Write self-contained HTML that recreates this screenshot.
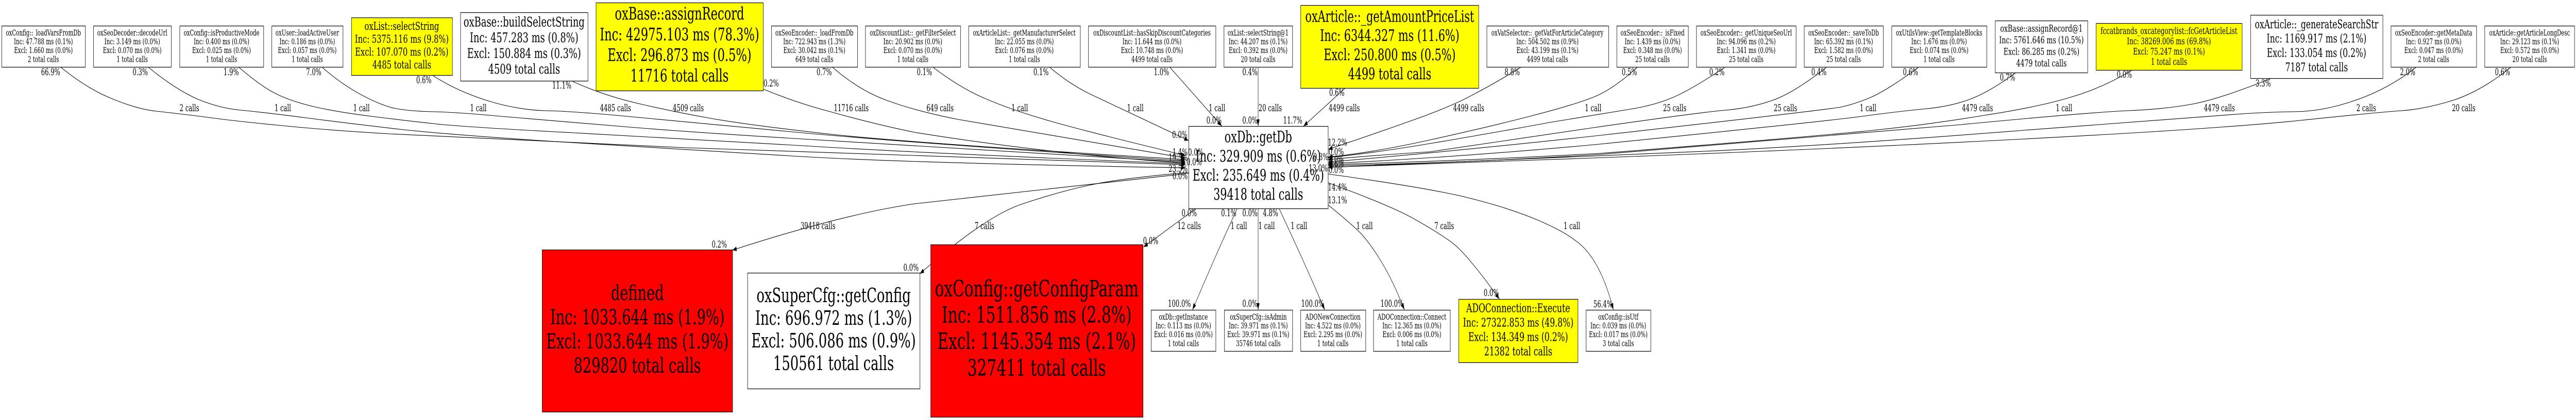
<!DOCTYPE html>
<html><head><meta charset="utf-8"><title>Call graph</title>
<style>
html,body{margin:0;padding:0;background:#fff;width:100%;height:100%;overflow:hidden}
svg{display:block;width:100vw;height:100vh}
text{font-family:"DejaVu Serif","Liberation Serif",serif;fill:#000;text-anchor:middle}
.n{font-size:16.2px}
.l{font-size:18.4px}
rect{stroke:#000;stroke-width:1.2}
.e{fill:none;stroke:#000;stroke-width:1.1}
.a{marker-end:url(#h)}
</style></head><body>
<svg xmlns="http://www.w3.org/2000/svg" viewBox="0 0 7889 816" preserveAspectRatio="none">
<defs><marker id="h" markerUnits="userSpaceOnUse" markerWidth="14" markerHeight="10" refX="13" refY="4.5" orient="auto"><path d="M0,0 L13,4.5 L0,9 z" fill="#000"/></marker></defs>
<rect x="0" y="0" width="7889" height="816" style="fill:#fff;stroke:none"/>

<!-- edges -->
<path class="e a" d="M187,131 Q268,173 344,192 Q420,212 478,216 Q536,220 625,227 Q714,235 848,243 Q982,252 1191,260 Q1400,268 2100,287 Q2800,305 3630,320"/>
<path class="e a" d="M455,131 Q536,173 603,192 Q670,210 737,214 Q804,218 938,229 Q1071,240 1236,252 Q1400,263 1750,277 Q2100,290 2450,304 Q2800,317 3630,326"/>
<path class="e a" d="M732,131 Q804,170 848,183 Q893,197 960,207 Q1027,217 1138,226 Q1250,235 1325,240 Q1400,246 1757,258 Q2114,270 2457,283 Q2800,297 3630,318"/>
<path class="e a" d="M987,131 Q1045,163 1103,183 Q1161,203 1205,210 Q1250,216 1325,217 Q1400,218 1534,226 Q1668,233 1891,245 Q2114,257 2457,270 Q2800,282 3630,315"/>
<path class="e a" d="M1326,147 Q1400,177 1490,195 Q1579,213 1668,215 Q1757,216 1936,227 Q2114,238 2457,258 Q2800,278 3630,313"/>
<path class="e a" d="M1753,158 Q1846,185 1954,201 Q2061,217 2177,230 Q2293,243 2547,261 Q2800,278 3630,310"/>
<path class="e a" d="M2337,173 Q2440,200 2543,217 Q2670,240 2800,257 Q3200,298 3630,317"/>
<path class="e a" d="M2550,131 Q2632,176 2716,195 Q2800,215 2934,232 Q3068,248 3630,307"/>
<path class="e a" d="M2858,131 Q2943,172 3019,192 Q3095,213 3215,235 Q3336,257 3630,302"/>
<path class="e a" d="M3215,131 Q3275,163 3336,182 L3640,273"/>
<path class="e a" d="M3583,131 L3742,245"/>
<path class="e a" d="M3853,131 L3853,245"/>
<path class="e a" d="M4120,171 L3992,245"/>
<path class="e a" d="M4657,131 Q4575,163 4508,185 Q4441,208 4320,235 Q4200,262 4068,290"/>
<path class="e a" d="M5014,131 Q4941,173 4883,188 Q4825,203 4691,225 Q4557,247 4378,272 Q4200,297 4068,305"/>
<path class="e a" d="M5282,131 Q5182,173 5128,188 Q5075,203 5003,211 Q4932,218 4745,238 Q4557,260 4378,279 Q4200,298 4068,306"/>
<path class="e a" d="M5593,131 Q5495,180 5428,195 Q5360,210 5285,214 Q5209,218 4880,248 Q4557,278 4378,295 Q4200,302 4068,310"/>
<path class="e a" d="M5875,131 Q5776,177 5726,190 Q5676,203 5638,208 Q5600,213 4900,263 Q4500,291 4068,315"/>
<path class="e a" d="M6174,141 Q6090,180 6028,194 Q5967,208 5887,212 Q5807,217 5703,226 Q5600,235 4900,280 Q4500,304 4068,318"/>
<path class="e a" d="M6530,136 Q6442,170 6346,188 Q6250,207 6078,224 Q5906,242 5753,252 Q5600,263 4900,298 Q4500,312 4068,320"/>
<path class="e a" d="M6956,152 Q6800,192 6716,202 Q6633,212 6518,215 Q6404,218 5990,243 Q5600,263 4900,300 Q4500,316 4068,322"/>
<path class="e a" d="M7399,131 Q7314,173 7213,195 Q7112,217 7025,217 Q6939,218 6870,221 Q6800,224 6200,253 Q5600,283 5217,294 Q4834,306 4068,325"/>
<path class="e a" d="M7689,131 Q7599,177 7512,195 Q7425,212 7355,215 Q7286,218 7043,234 Q6800,250 6200,270 Q5600,290 4834,308 Q4400,318 4068,325"/>
<path class="e a" d="M3640,337 Q3200,368 2800,396 Q2583,416 2243,486"/>
<path class="e a" d="M3640,335 Q3425,347 3335,360 Q3246,372 3132,396 Q3019,419 2817,532"/>
<path class="e a" d="M3663,405 L3502,480"/>
<path class="e a" d="M3789,405 Q3720,500 3652,602"/>
<path class="e a" d="M3853,405 L3853,602"/>
<path class="e a" d="M3917,405 Q3995,510 4057,602"/>
<path class="e a" d="M4067,398 Q4130,430 4170,455 Q4245,510 4301,602"/>
<path class="e a" d="M4067,355 Q4261,400 4330,425 Q4400,450 4444,470 Q4489,490 4592,581"/>
<path class="e a" d="M4067,338 Q4350,363 4475,381 Q4601,400 4692,423 Q4784,447 4824,467 Q4900,500 4941,602"/>

<!-- small top nodes -->
<rect x="5.5" y="50.5" width="256" height="80" style="fill:#fff"/>
<text class="n" x="133" y="69">oxConfig::_loadVarsFromDb</text><text class="n" x="133" y="86">Inc: 47.788 ms (0.1%)</text><text class="n" x="133" y="103">Excl: 1.660 ms (0.0%)</text><text class="n" x="133" y="120.5">2 total calls</text>

<rect x="286.5" y="50.5" width="238" height="80" style="fill:#fff"/>
<text class="n" x="405" y="69">oxSeoDecoder::decodeUrl</text><text class="n" x="405" y="86">Inc: 3.149 ms (0.0%)</text><text class="n" x="405" y="103">Excl: 0.070 ms (0.0%)</text><text class="n" x="405" y="120.5">1 total calls</text>

<rect x="550.5" y="50.5" width="257" height="80" style="fill:#fff"/>
<text class="n" x="678.5" y="69">oxConfig::isProductiveMode</text><text class="n" x="678.5" y="86">Inc: 0.400 ms (0.0%)</text><text class="n" x="678.5" y="103">Excl: 0.025 ms (0.0%)</text><text class="n" x="678.5" y="120.5">1 total calls</text>

<rect x="832.5" y="50.5" width="218" height="80" style="fill:#fff"/>
<text class="n" x="941" y="69">oxUser::loadActiveUser</text><text class="n" x="941" y="86">Inc: 0.186 ms (0.0%)</text><text class="n" x="941" y="103">Excl: 0.057 ms (0.0%)</text><text class="n" x="941" y="120.5">1 total calls</text>

<rect x="1076.5" y="34.5" width="309" height="112" style="fill:#ff0"/>
<g transform="translate(1230.5,0) scale(1.06,1)" font-size="21.8"><text y="58">oxList::selectString</text><text y="83">Inc: 5375.116 ms (9.8%)</text><text y="108">Excl: 107.070 ms (0.2%)</text><text y="133">4485 total calls</text></g>

<rect x="1410.5" y="24.5" width="390" height="133" style="fill:#fff"/>
<g transform="translate(1605,0) scale(1.06,1)" font-size="26.6"><text y="51.5">oxBase::buildSelectString</text><text y="82">Inc: 457.283 ms (0.8%)</text><text y="112.5">Excl: 150.884 ms (0.3%)</text><text y="143">4509 total calls</text></g>

<rect x="1825.5" y="5.5" width="512" height="171" style="fill:#ff0"/>
<g transform="translate(2081,0) scale(1.06,1)" font-size="33.6"><text y="38">oxBase::assignRecord</text><text y="78.5">Inc: 42975.103 ms (78.3%)</text><text y="118.5">Excl: 296.873 ms (0.5%)</text><text y="158.5">11716 total calls</text></g>

<rect x="2362.5" y="50.5" width="264" height="80" style="fill:#fff"/>
<text class="n" x="2494" y="69">oxSeoEncoder::_loadFromDb</text><text class="n" x="2494" y="86">Inc: 722.943 ms (1.3%)</text><text class="n" x="2494" y="103">Excl: 30.042 ms (0.1%)</text><text class="n" x="2494" y="120.5">649 total calls</text>

<rect x="2650.5" y="50.5" width="291" height="80" style="fill:#fff"/>
<text class="n" x="2795.5" y="69">oxDiscountList::_getFilterSelect</text><text class="n" x="2795.5" y="86">Inc: 20.902 ms (0.0%)</text><text class="n" x="2795.5" y="103">Excl: 0.070 ms (0.0%)</text><text class="n" x="2795.5" y="120.5">1 total calls</text>

<rect x="2966.5" y="50.5" width="342" height="80" style="fill:#fff"/>
<text class="n" x="3137" y="69">oxArticleList::_getManufacturerSelect</text><text class="n" x="3137" y="86">Inc: 22.055 ms (0.0%)</text><text class="n" x="3137" y="103">Excl: 0.076 ms (0.0%)</text><text class="n" x="3137" y="120.5">1 total calls</text>

<rect x="3333.5" y="50.5" width="390" height="80" style="fill:#fff"/>
<text class="n" x="3528" y="69">oxDiscountList::hasSkipDiscountCategories</text><text class="n" x="3528" y="86">Inc: 11.644 ms (0.0%)</text><text class="n" x="3528" y="103">Excl: 10.748 ms (0.0%)</text><text class="n" x="3528" y="120.5">4499 total calls</text>

<rect x="3748.5" y="50.5" width="210" height="80" style="fill:#fff"/>
<text class="n" x="3853" y="69">oxList::selectString@1</text><text class="n" x="3853" y="86">Inc: 44.207 ms (0.1%)</text><text class="n" x="3853" y="103">Excl: 0.392 ms (0.0%)</text><text class="n" x="3853" y="120.5">20 total calls</text>

<rect x="3983.5" y="10.5" width="545" height="161" style="fill:#ff0"/>
<g transform="translate(4256,0) scale(1.06,1)" font-size="30.8"><text y="42.5">oxArticle::_getAmountPriceList</text><text y="79.5">Inc: 6344.327 ms (11.6%)</text><text y="117">Excl: 250.800 ms (0.5%)</text><text y="154">4499 total calls</text></g>

<rect x="4553.5" y="50.5" width="373" height="80" style="fill:#fff"/>
<text class="n" x="4739" y="69">oxVatSelector::_getVatForArticleCategory</text><text class="n" x="4739" y="86">Inc: 504.502 ms (0.9%)</text><text class="n" x="4739" y="103">Excl: 43.199 ms (0.1%)</text><text class="n" x="4739" y="120.5">4499 total calls</text>

<rect x="4951.5" y="50.5" width="219" height="80" style="fill:#fff"/>
<text class="n" x="5061" y="69">oxSeoEncoder::_isFixed</text><text class="n" x="5061" y="86">Inc: 1.439 ms (0.0%)</text><text class="n" x="5061" y="103">Excl: 0.348 ms (0.0%)</text><text class="n" x="5061" y="120.5">25 total calls</text>

<rect x="5195.5" y="50.5" width="305" height="80" style="fill:#fff"/>
<text class="n" x="5347.7" y="69">oxSeoEncoder::_getUniqueSeoUrl</text><text class="n" x="5347.7" y="86">Inc: 94.096 ms (0.2%)</text><text class="n" x="5347.7" y="103">Excl: 1.341 ms (0.0%)</text><text class="n" x="5347.7" y="120.5">25 total calls</text>

<rect x="5525.5" y="50.5" width="242" height="80" style="fill:#fff"/>
<text class="n" x="5646" y="69">oxSeoEncoder::_saveToDb</text><text class="n" x="5646" y="86">Inc: 65.392 ms (0.1%)</text><text class="n" x="5646" y="103">Excl: 1.582 ms (0.0%)</text><text class="n" x="5646" y="120.5">25 total calls</text>

<rect x="5793.5" y="50.5" width="291" height="80" style="fill:#fff"/>
<text class="n" x="5938.5" y="69">oxUtilsView::getTemplateBlocks</text><text class="n" x="5938.5" y="86">Inc: 1.676 ms (0.0%)</text><text class="n" x="5938.5" y="103">Excl: 0.074 ms (0.0%)</text><text class="n" x="5938.5" y="120.5">1 total calls</text>

<rect x="6110.5" y="40.5" width="283" height="101" style="fill:#fff"/>
<g transform="translate(6252,0) scale(1.06,1)" font-size="18.7"><text y="61.5">oxBase::assignRecord@1</text><text y="84">Inc: 5761.646 ms (10.5%)</text><text y="106.5">Excl: 86.285 ms (0.2%)</text><text y="129">4479 total calls</text></g>

<rect x="6419.5" y="45.5" width="447" height="91" style="fill:#ff0"/>
<g transform="translate(6642.5,0) scale(1.06,1)" font-size="17.7"><text y="66">fccatbrands_oxcategorylist::fcGetArticleList</text><text y="86">Inc: 38269.006 ms (69.8%)</text><text y="106">Excl: 75.247 ms (0.1%)</text><text y="126">1 total calls</text></g>

<rect x="6892.5" y="29.5" width="405" height="123" style="fill:#fff"/>
<g transform="translate(7094.5,0) scale(1.06,1)" font-size="23.2"><text y="55">oxArticle::_generateSearchStr</text><text y="82.7">Inc: 1169.917 ms (2.1%)</text><text y="110.5">Excl: 133.054 ms (0.2%)</text><text y="138.5">7187 total calls</text></g>

<rect x="7322.5" y="50.5" width="262" height="80" style="fill:#fff"/>
<text class="n" x="7453" y="69">oxSeoEncoder::getMetaData</text><text class="n" x="7453" y="86">Inc: 0.927 ms (0.0%)</text><text class="n" x="7453" y="103">Excl: 0.047 ms (0.0%)</text><text class="n" x="7453" y="120.5">2 total calls</text>

<rect x="7609.5" y="50.5" width="275" height="80" style="fill:#fff"/>
<text class="n" x="7747" y="69">oxArticle::getArticleLongDesc</text><text class="n" x="7747" y="86">Inc: 29.123 ms (0.1%)</text><text class="n" x="7747" y="103">Excl: 0.572 ms (0.0%)</text><text class="n" x="7747" y="120.5">20 total calls</text>

<!-- centre -->
<rect x="3640.5" y="245.5" width="427" height="160" style="fill:#fff"/>
<g transform="translate(3853.5,0) scale(1.06,1)" font-size="30.7"><text y="276.5">oxDb::getDb</text><text y="314">Inc: 329.909 ms (0.6%)</text><text y="351">Excl: 235.649 ms (0.4%)</text><text y="388">39418 total calls</text></g>

<!-- bottom row -->
<rect x="1660.5" y="485.5" width="583" height="315" style="fill:#f00"/>
<g transform="translate(1952,0) scale(1.06,1)" font-size="40.5"><text y="583">defined</text><text y="630">Inc: 1033.644 ms (1.9%)</text><text y="677">Excl: 1033.644 ms (1.9%)</text><text y="724">829820 total calls</text></g>

<rect x="2289.5" y="530.5" width="528" height="225" style="fill:#fff"/>
<g transform="translate(2553,0) scale(1.06,1)" font-size="38.4"><text y="587">oxSuperCfg::getConfig</text><text y="631">Inc: 696.972 ms (1.3%)</text><text y="675">Excl: 506.086 ms (0.9%)</text><text y="719">150561 total calls</text></g>

<rect x="2850.5" y="475.5" width="650" height="335" style="fill:#f00"/>
<g transform="translate(3175,0) scale(1.06,1)" font-size="44.1"><text y="576">oxConfig::getConfigParam</text><text y="627">Inc: 1511.856 ms (2.8%)</text><text y="678">Excl: 1145.354 ms (2.1%)</text><text y="730">327411 total calls</text></g>

<rect x="3525.5" y="602.5" width="198" height="80" style="fill:#fff"/>
<text class="n" x="3624" y="621">oxDb::getInstance</text><text class="n" x="3624" y="638">Inc: 0.113 ms (0.0%)</text><text class="n" x="3624" y="655">Excl: 0.016 ms (0.0%)</text><text class="n" x="3624" y="672.5">1 total calls</text>

<rect x="3749.5" y="602.5" width="209" height="80" style="fill:#fff"/>
<text class="n" x="3853.5" y="621">oxSuperCfg::isAdmin</text><text class="n" x="3853.5" y="638">Inc: 39.971 ms (0.1%)</text><text class="n" x="3853.5" y="655">Excl: 39.971 ms (0.1%)</text><text class="n" x="3853.5" y="672.5">35746 total calls</text>

<rect x="3983.5" y="602.5" width="199" height="80" style="fill:#fff"/>
<text class="n" x="4082" y="621">ADONewConnection</text><text class="n" x="4082" y="638">Inc: 4.522 ms (0.0%)</text><text class="n" x="4082" y="655">Excl: 2.295 ms (0.0%)</text><text class="n" x="4082" y="672.5">1 total calls</text>

<rect x="4206.5" y="602.5" width="235" height="80" style="fill:#fff"/>
<text class="n" x="4324" y="621">ADOConnection::Connect</text><text class="n" x="4324" y="638">Inc: 12.365 ms (0.0%)</text><text class="n" x="4324" y="655">Excl: 0.006 ms (0.0%)</text><text class="n" x="4324" y="672.5">1 total calls</text>

<rect x="4467.5" y="581.5" width="365" height="123" style="fill:#ff0"/>
<g transform="translate(4649.5,0) scale(1.06,1)" font-size="23.3"><text y="606.5">ADOConnection::Execute</text><text y="634.5">Inc: 27322.853 ms (49.8%)</text><text y="662.5">Excl: 134.349 ms (0.2%)</text><text y="690.5">21382 total calls</text></g>

<rect x="4857.5" y="602.5" width="198" height="80" style="fill:#fff"/>
<text class="n" x="4956" y="621">oxConfig::isUtf</text><text class="n" x="4956" y="638">Inc: 0.039 ms (0.0%)</text><text class="n" x="4956" y="655">Excl: 0.017 ms (0.0%)</text><text class="n" x="4956" y="672.5">3 total calls</text>

<!-- tail labels top -->
<g class="l">
<text class="l" x="155" y="146">66.9%</text><text class="l" x="429.5" y="146">0.3%</text><text class="l" x="708" y="146">1.9%</text><text class="l" x="961" y="146">7.0%</text><text class="l" x="1298" y="161.5">0.6%</text><text class="l" x="1720.5" y="172">11.1%</text><text class="l" x="2361.6" y="168">0.2%</text><text class="l" x="2524" y="146">0.7%</text><text class="l" x="2831" y="146">0.1%</text><text class="l" x="3188" y="146">0.1%</text><text class="l" x="3557" y="146">1.0%</text><text class="l" x="3828" y="146">0.4%</text><text class="l" x="4094" y="186">0.6%</text><text class="l" x="4631" y="146">8.8%</text><text class="l" x="4990" y="146">0.5%</text><text class="l" x="5258" y="146">0.2%</text><text class="l" x="5570.5" y="146">0.4%</text><text class="l" x="5851" y="146">0.6%</text><text class="l" x="6148" y="156.5">0.7%</text><text class="l" x="6506" y="151">0.0%</text><text class="l" x="6931" y="168">3.3%</text><text class="l" x="7373.6" y="146">2.0%</text><text class="l" x="7664" y="146">0.6%</text>

<!-- mid labels -->
<text class="l" x="580" y="216">2 calls</text><text class="l" x="866" y="216">1 call</text><text class="l" x="1107" y="216">1 call</text><text class="l" x="1465" y="216">1 call</text><text class="l" x="1885" y="216">4485 calls</text><text class="l" x="2108" y="216">4509 calls</text><text class="l" x="2607" y="216">11716 calls</text><text class="l" x="2879" y="216">649 calls</text><text class="l" x="3123" y="216">1 call</text><text class="l" x="3477" y="216">1 call</text><text class="l" x="3727" y="216">1 call</text><text class="l" x="3890" y="216">20 calls</text><text class="l" x="4117" y="216">4499 calls</text><text class="l" x="4498" y="216">4499 calls</text><text class="l" x="4879" y="216">1 call</text><text class="l" x="5129" y="216">25 calls</text><text class="l" x="5468" y="216">25 calls</text><text class="l" x="5721" y="216">1 call</text><text class="l" x="6056" y="216">4479 calls</text><text class="l" x="6321" y="216">1 call</text><text class="l" x="6797" y="216">4479 calls</text><text class="l" x="7246.5" y="216">2 calls</text><text class="l" x="7545" y="216">20 calls</text>

<!-- head labels around getDb -->
<text class="l" x="3718" y="240">0.0%</text><text class="l" x="3828" y="240">0.0%</text><text class="l" x="3959" y="240">11.7%</text>
<text class="l" x="3613" y="268">0.0%</text><text class="l" x="3614" y="302">1.4%</text><text class="l" x="3662" y="302">0.0%</text><text class="l" x="3608" y="312">19.5%</text><text class="l" x="3657" y="321">0.0%</text><text class="l" x="3608" y="334">23.5%</text><text class="l" x="3614" y="348">0.0%</text>
<text class="l" x="4096" y="283">12.2%</text><text class="l" x="4092" y="301">0.0%</text><text class="l" x="4045" y="311">0.3%</text><text class="l" x="4092" y="316">0.0%</text><text class="l" x="4092" y="324">0.6%</text><text class="l" x="4037" y="333">13.0%</text><text class="l" x="4092" y="336">0.0%</text><text class="l" x="4096" y="370">14.4%</text><text class="l" x="4096" y="395">13.1%</text>

<!-- below getDb -->
<text class="l" x="3642" y="420">0.0%</text><text class="l" x="3763" y="420">0.1%</text><text class="l" x="3828" y="420">0.0%</text><text class="l" x="3891" y="420">4.8%</text>
<text class="l" x="2505" y="445">39418 calls</text><text class="l" x="3015" y="445">7 calls</text><text class="l" x="3642" y="445">12 calls</text><text class="l" x="3794" y="445">1 call</text><text class="l" x="3879" y="445">1 call</text><text class="l" x="3978" y="445">1 call</text><text class="l" x="4179" y="445">1 call</text><text class="l" x="4423" y="445">7 calls</text><text class="l" x="4814" y="445">1 call</text>

<!-- head labels bottom -->
<text class="l" x="2203" y="481">0.2%</text><text class="l" x="2790" y="526">0.0%</text><text class="l" x="3524" y="474">0.0%</text><text class="l" x="3612" y="596">100.0%</text><text class="l" x="3828" y="596">0.0%</text><text class="l" x="4020" y="596">100.0%</text><text class="l" x="4263" y="596">100.0%</text><text class="l" x="4567" y="575">0.0%</text><text class="l" x="4909" y="597">56.4%</text>
</g>
</svg>
</body></html>
